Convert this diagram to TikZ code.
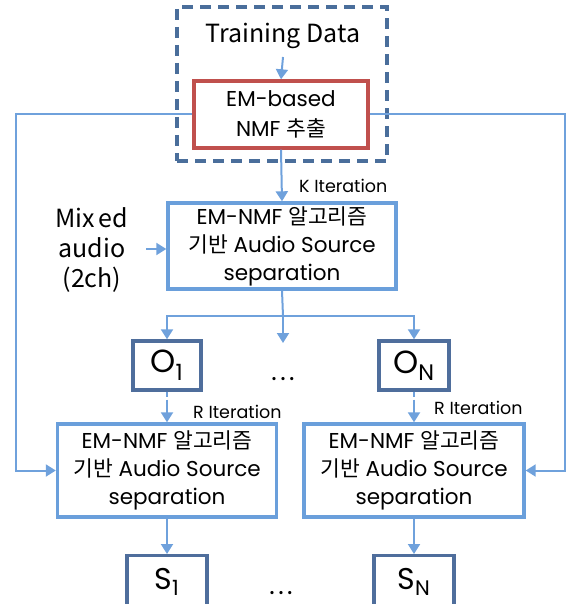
\documentclass[tikz,border=0pt]{standalone}
\usepackage{fontspec}
\setmainfont{Poppins}
\newfontfamily\kr{Noto Sans CJK KR}
\usetikzlibrary{arrows.meta}

\definecolor{connblue}{HTML}{6FA1DC}
\definecolor{boxblue}{HTML}{6A9FDB}
\definecolor{darkbox}{HTML}{4F6E9C}
\definecolor{dashblue}{HTML}{4A6E9B}
\definecolor{redbox}{HTML}{C0504D}

\tikzset{
  wire/.style={draw=connblue, line width=2pt},
  conn/.style={wire, -{Triangle[length=10pt,width=12pt]}},
  procbox/.style={draw=boxblue, line width=3.4pt, fill=white, align=center,
    inner sep=0pt, minimum width=#1, minimum height=93pt,
    font=\fontsize{21.5}{28}\selectfont},
  outbox/.style={draw=darkbox, line width=3.4pt, fill=white, inner sep=0pt,
    font=\fontsize{32}{32}\selectfont},
  iterlabel/.style={anchor=base west, inner sep=0pt,
    font=\fontsize{17.5}{17.5}\selectfont},
  plain/.style={inner sep=0pt, align=center, font=\kr\fontsize{25}{30}\selectfont},
  ellip/.style={inner sep=0pt, font=\fontsize{26}{26}\selectfont}
}
\newcommand\spreaddots{.\kern3.5pt.\kern3.5pt.}

\begin{document}
\begin{tikzpicture}[x=1pt, y=-1pt]
\useasboundingbox (0,0) rectangle (568,604);
\clip (0,0) rectangle (568,604);

% training stage
\node[draw=dashblue, line width=3.4pt, dash pattern=on 11pt off 7pt,
      minimum width=210pt, minimum height=154pt, inner sep=0pt] (train) at (282,84) {};
\node[plain, anchor=base] (td) at (283,43) {Training Data};
\node[draw=redbox, line width=3.4pt, fill=white, align=center, inner sep=0pt,
      minimum width=174pt, minimum height=67pt,
      font=\fontsize{21.5}{30}\selectfont] (nmf) at (281,114.5)
      {EM-based\\NMF {\kr 추출}};
\coordinate (tdout) at (283,57);
\draw[conn] (tdout) -- (nmf.north);

% first separation stage
\node[procbox=228pt, minimum height=86pt] (mid) at (282,246)
  {EM-NMF {\kr 알고리즘}\\{\kr 기반} Audio Source\\separation};
\draw[conn] (nmf.south) -- (mid.north);
\node[iterlabel] (kit) at (299,192) {K Iteration};

\node[plain] (mix) at (92,250) {Mix\kern0.15em ed\\audio\\(2ch)};
\coordinate (mixout) at (146,249);
\draw[conn] (mixout) -- (mixout -| mid.west);

% intermediate outputs
\node[outbox, minimum width=68pt, minimum height=49pt] (o1) at (167,365.5)
  {O\textsubscript{1}};
\node[outbox, minimum width=70pt, minimum height=49pt] (on) at (414,365.5)
  {O\textsubscript{N}};
\node[ellip, anchor=base] (odots) at (283,380) {\spreaddots};
\coordinate (split) at (283,316);
\coordinate (dtip) at (283,343);
\draw[wire] (mid.south) -- (split);
\draw[conn] (split) -| (o1.north);
\draw[conn] (split) -| (on.north);
\draw[conn] (split) -- (dtip);

% second separation stage
\node[procbox=219pt] (lbox) at (167,470.5)
  {EM-NMF {\kr 알고리즘}\\{\kr 기반} Audio Source\\separation};
\node[procbox=220pt] (rbox) at (414,470.5)
  {EM-NMF {\kr 알고리즘}\\{\kr 기반} Audio Source\\separation};
\draw[conn, dash pattern=on 5pt off 3pt on 30pt off 0pt] (o1.south) -- (lbox.north);
\draw[conn, dash pattern=on 5pt off 3pt on 30pt off 0pt] (on.south) -- (rbox.north);
\node[iterlabel] (rit1) at (193,418) {R Iteration};
\node[iterlabel] (rit2) at (434,414) {R Iteration};

% dictionary feed to both second-stage boxes
\coordinate (lrail) at (16,300);
\coordinate (rrail) at (565,300);
\draw[conn] (nmf.west) -| (lrail) |- (lbox.west);
\draw[conn] (nmf.east) -| (rrail) |- (rbox.east);

% final outputs
\node[outbox, minimum width=80pt, minimum height=60pt, anchor=north] (s1) at (167,554) {};
\node[outbox, minimum width=80pt, minimum height=60pt, anchor=north] (sn) at (414,554) {};
\node[inner sep=0pt, font=\fontsize{30}{30}\selectfont, anchor=base] (s1t) at (167,589) {S\textsubscript{1}};
\node[inner sep=0pt, font=\fontsize{30}{30}\selectfont, anchor=base] (snt) at (414,589) {S\textsubscript{N}};
\node[ellip, anchor=base] (sdots) at (281,594) {\spreaddots};
\draw[conn] (lbox.south) -- (s1.north);
\draw[conn] (rbox.south) -- (sn.north);
\end{tikzpicture}
\end{document}
